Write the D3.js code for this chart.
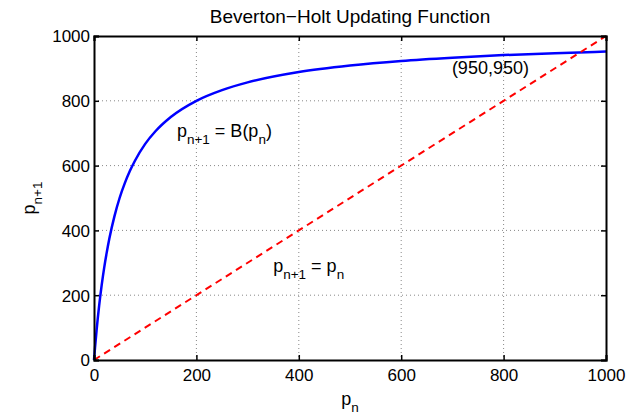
<!DOCTYPE html>
<html>
<head>
<meta charset="utf-8">
<script src="https://cdn.jsdelivr.net/npm/d3@7"></script>
<style>
  body { margin: 0; background: #fff; }
  svg text { font-family: "Liberation Sans", Arial, Helvetica, sans-serif; fill: #000; }
</style>
</head>
<body>
<div id="chart"></div>
<script>
// values
const popNow = [0, 2, 5, 10, 15, 20, 25, 30, 40, 50, 60, 70, 80, 100, 120, 150, 200, 250, 300, 400, 500, 600, 700, 800, 900, 1000];
const popNext = [0, 38, 91, 167, 231, 286, 333, 375, 444, 500, 545, 583, 615, 667, 706, 750, 800, 833, 857, 889, 909, 923, 933, 941, 947, 952];
const diagX = [0, 1000];
const diagY = [0, 1000];
const xTicks = [0, 200, 400, 600, 800, 1000];
const yTicks = [0, 200, 400, 600, 800, 1000];

const width = 634, height = 417;
const margin = { top: 36, right: 28, bottom: 57, left: 94 };
const innerW = width - margin.left - margin.right;
const innerH = height - margin.top - margin.bottom;

const svg = d3.select("#chart").append("svg")
  .attr("width", width)
  .attr("height", height);

const g = svg.append("g")
  .attr("transform", `translate(${margin.left},${margin.top})`);

const x = d3.scaleLinear().domain([0, 1000]).range([0, innerW]);
const y = d3.scaleLinear().domain([0, 1000]).range([innerH, 0]);

// dotted grid
g.append("g")
  .selectAll("line")
  .data(xTicks.slice(1, -1))
  .join("line")
  .attr("x1", d => x(d)).attr("x2", d => x(d))
  .attr("y1", 0).attr("y2", innerH)
  .attr("stroke", "#888").attr("stroke-width", 1)
  .attr("stroke-dasharray", "1,3");

g.append("g")
  .selectAll("line")
  .data(yTicks.slice(1, -1))
  .join("line")
  .attr("y1", d => y(d)).attr("y2", d => y(d))
  .attr("x1", 0).attr("x2", innerW)
  .attr("stroke", "#888").attr("stroke-width", 1)
  .attr("stroke-dasharray", "1,3");

// data lines
const pts = popNow.map((p, i) => [p, popNext[i]]);
g.append("path")
  .datum(pts)
  .attr("fill", "none")
  .attr("stroke", "#0000ff")
  .attr("stroke-width", 2.5)
  .attr("d", d3.line().x(d => x(d[0])).y(d => y(d[1])).curve(d3.curveMonotoneX));

const diag = diagX.map((p, i) => [p, diagY[i]]);
g.append("path")
  .datum(diag)
  .attr("fill", "none")
  .attr("stroke", "#ff0000")
  .attr("stroke-width", 2)
  .attr("stroke-dasharray", "7,5")
  .attr("d", d3.line().x(d => x(d[0])).y(d => y(d[1])));

// axes (MATLAB style box, ticks inward)
const tickLen = 5;
const fmt = d3.format("d");
const axB = g.append("g").attr("transform", `translate(0,${innerH})`)
  .call(d3.axisBottom(x).tickValues(xTicks).tickSize(-tickLen).tickPadding(9).tickFormat(fmt));
const axL = g.append("g")
  .call(d3.axisLeft(y).tickValues(yTicks).tickSize(-tickLen).tickPadding(4).tickFormat(fmt));
const axT = g.append("g")
  .call(d3.axisTop(x).tickValues(xTicks).tickSize(-tickLen).tickFormat(""));
const axR = g.append("g").attr("transform", `translate(${innerW},0)`)
  .call(d3.axisRight(y).tickValues(yTicks).tickSize(-tickLen).tickFormat(""));

[axB, axL, axT, axR].forEach(a => {
  a.select(".domain").attr("stroke", "#000").attr("stroke-width", 2);
  a.selectAll(".tick line").attr("stroke", "#000").attr("stroke-width", 1.5);
  a.selectAll(".tick text").style("font-size", "17px").attr("fill", "#000")
    .style("font-family", "'Liberation Sans', Arial, sans-serif");
});
axL.selectAll(".tick text").attr("dy", "0.35em");

// title
svg.append("text")
  .attr("x", margin.left + innerW / 2)
  .attr("y", 23)
  .attr("text-anchor", "middle")
  .style("font-size", "19px")
  .text("Beverton\u2212Holt Updating Function");

// helper for p with subscript
function subText(sel, parts) {
  parts.forEach(p => {
    const t = sel.append("tspan").text(p.t);
    if (p.sub) t.attr("dy", 7).style("font-size", "13.5px");
    if (p.up) t.attr("dy", -7);
  });
}

// x label
const xl = svg.append("text")
  .attr("x", margin.left + innerW / 2)
  .attr("y", 405)
  .attr("text-anchor", "middle")
  .style("font-size", "18px");
subText(xl, [{ t: "p" }, { t: "n", sub: true }]);

// y label
const yl = svg.append("text")
  .attr("transform", `translate(35,${margin.top + innerH / 2}) rotate(-90)`)
  .attr("text-anchor", "middle")
  .style("font-size", "18px");
subText(yl, [{ t: "p" }, { t: "n+1", sub: true }]);

// annotations
const a1 = g.append("text")
  .attr("x", x(162)).attr("y", y(688))
  .style("font-size", "18px");
subText(a1, [{ t: "p" }, { t: "n+1", sub: true }, { t: " = B(p", up: true }, { t: "n", sub: true }, { t: ")", up: true }]);

const a2 = g.append("text")
  .attr("x", x(350)).attr("y", y(272))
  .style("font-size", "18px");
subText(a2, [{ t: "p" }, { t: "n+1", sub: true }, { t: " = p", up: true }, { t: "n", sub: true }]);

g.append("text")
  .attr("x", x(699)).attr("y", y(883))
  .style("font-size", "18px")
  .text("(950,950)");
</script>
</body>
</html>
